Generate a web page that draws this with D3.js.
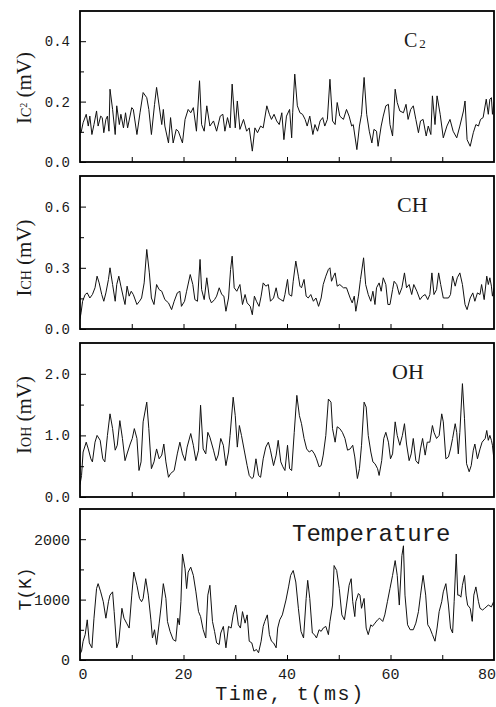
<!DOCTYPE html>
<html><head><meta charset="utf-8">
<script src="https://cdn.jsdelivr.net/npm/d3@7"></script>
<style>body{margin:0;background:#fff}svg{display:block}</style>
</head><body>
<script>
// ---- data (time in ms, values in panel units) ----
const c2Data = [[0,0.10],[0.2,0.097],[0.6,0.13],[1.2,0.158],[1.6,0.119],[1.9,0.152],[2.3,0.091],[2.7,0.124],[3.2,0.169],[3.5,0.119],[4.0,0.152],[4.3,0.147],[4.6,0.097],[5.0,0.141],[5.3,0.152],[5.6,0.102],[5.8,0.241],[6.3,0.174],[6.8,0.091],[7.1,0.186],[7.6,0.124],[7.9,0.158],[8.4,0.113],[8.8,0.163],[9.2,0.113],[10.0,0.18],[10.3,0.174],[11.0,0.091],[11.6,0.163],[12.2,0.23],[12.9,0.213],[13.3,0.174],[13.8,0.091],[14.4,0.19],[14.8,0.247],[15.8,0.124],[16.1,0.174],[16.4,0.119],[17.1,0.063],[17.5,0.147],[18.0,0.063],[18.6,0.108],[19.0,0.102],[19.8,0.063],[20.3,0.141],[20.9,0.174],[21.4,0.163],[21.9,0.18],[22.5,0.102],[23.1,0.269],[23.5,0.124],[24.0,0.102],[24.5,0.186],[25.1,0.119],[25.8,0.136],[26.4,0.102],[27.1,0.152],[27.6,0.158],[28.0,0.102],[28.5,0.147],[29.0,0.113],[29.4,0.258],[30.0,0.113],[30.4,0.202],[30.9,0.108],[31.6,0.141],[32.2,0.102],[32.7,0.113],[33.3,0.036],[33.8,0.113],[34.3,0.097],[34.9,0.119],[35.4,0.113],[36.1,0.186],[36.6,0.158],[37.0,0.141],[37.5,0.158],[38.0,0.136],[38.5,0.124],[39.0,0.163],[39.4,0.074],[39.9,0.152],[40.5,0.174],[40.9,0.08],[41.1,0.163],[41.5,0.291],[42.0,0.186],[42.5,0.163],[43.0,0.158],[43.5,0.141],[43.9,0.119],[44.4,0.152],[45.0,0.091],[45.4,0.124],[45.9,0.102],[46.4,0.136],[46.9,0.147],[47.3,0.119],[47.8,0.141],[48.3,0.274],[48.8,0.136],[49.3,0.124],[49.7,0.197],[50.2,0.152],[50.9,0.141],[51.5,0.174],[52.0,0.152],[52.5,0.119],[52.8,0.124],[53.5,0.041],[54.0,0.119],[54.4,0.158],[54.9,0.28],[55.4,0.158],[55.9,0.102],[56.4,0.063],[56.8,0.108],[57.3,0.102],[57.6,0.052],[58.2,0.119],[58.6,0.152],[59.1,0.186],[59.6,0.191],[59.9,0.124],[60.4,0.086],[60.9,0.241],[61.3,0.197],[61.8,0.169],[62.5,0.163],[63.0,0.191],[63.4,0.141],[63.9,0.174],[64.4,0.186],[64.9,0.141],[65.4,0.097],[65.8,0.136],[66.3,0.141],[66.9,0.086],[67.3,0.119],[67.8,0.091],[68.1,0.219],[68.6,0.124],[69.0,0.219],[69.6,0.158],[70.2,0.08],[70.9,0.119],[71.5,0.141],[72.1,0.102],[72.8,0.08],[73.4,0.119],[74.1,0.169],[74.4,0.202],[74.8,0.074],[75.4,0.052],[76.0,0.097],[76.5,0.124],[77.0,0.119],[77.4,0.141],[77.9,0.147],[78.5,0.208],[78.9,0.158],[79.2,0.208],[79.5,0.213],[79.7,0.158],[80.0,0.20]];

const chData = [[0,0.05],[0.2,0.079],[0.5,0.136],[1.0,0.169],[1.4,0.177],[1.9,0.152],[2.4,0.169],[2.9,0.202],[3.3,0.259],[3.7,0.226],[4.2,0.169],[4.6,0.136],[5.0,0.177],[5.5,0.243],[5.8,0.30],[6.3,0.218],[6.8,0.136],[7.1,0.218],[7.5,0.259],[7.9,0.21],[8.4,0.152],[8.7,0.12],[9.1,0.21],[9.5,0.161],[9.9,0.185],[10.3,0.169],[11.0,0.12],[11.5,0.136],[11.9,0.152],[12.4,0.226],[12.9,0.39],[13.4,0.275],[13.8,0.152],[14.3,0.12],[14.8,0.218],[15.3,0.193],[15.8,0.185],[16.4,0.144],[17.1,0.128],[17.7,0.095],[18.2,0.136],[18.8,0.177],[19.3,0.185],[19.6,0.111],[20.2,0.136],[20.6,0.185],[21.3,0.267],[21.8,0.218],[22.2,0.144],[22.7,0.136],[23.2,0.341],[23.5,0.193],[24.0,0.144],[24.5,0.251],[25.0,0.152],[25.4,0.128],[26.0,0.144],[26.4,0.161],[26.9,0.202],[27.4,0.169],[27.8,0.161],[28.2,0.087],[28.7,0.152],[29.1,0.292],[29.4,0.357],[29.8,0.202],[30.3,0.185],[30.9,0.218],[31.4,0.12],[31.9,0.169],[32.3,0.128],[32.9,0.111],[33.3,0.07],[33.7,0.161],[34.1,0.136],[34.6,0.111],[35.0,0.161],[35.4,0.226],[35.9,0.21],[36.4,0.218],[36.8,0.136],[37.4,0.152],[37.9,0.202],[38.3,0.152],[38.8,0.144],[39.3,0.136],[39.6,0.169],[40.1,0.243],[40.4,0.169],[40.9,0.161],[41.2,0.234],[41.7,0.333],[42.2,0.259],[42.5,0.21],[42.8,0.202],[43.3,0.243],[43.7,0.161],[44.1,0.152],[44.6,0.169],[45.1,0.136],[45.6,0.152],[46.1,0.111],[46.6,0.152],[47.0,0.218],[47.5,0.259],[48.0,0.292],[48.3,0.30],[48.6,0.234],[49.0,0.259],[49.3,0.275],[49.7,0.21],[50.2,0.218],[50.9,0.202],[51.5,0.202],[52.2,0.152],[52.6,0.128],[53.0,0.161],[53.3,0.087],[53.8,0.161],[54.2,0.243],[54.8,0.349],[55.2,0.218],[55.7,0.169],[56.2,0.136],[56.6,0.185],[57.0,0.12],[57.3,0.202],[57.8,0.226],[58.2,0.185],[58.6,0.251],[59.1,0.218],[59.5,0.12],[59.9,0.12],[60.4,0.193],[60.7,0.234],[61.2,0.218],[61.7,0.169],[62.2,0.202],[62.7,0.275],[63.1,0.202],[63.6,0.218],[64.1,0.169],[64.5,0.218],[65.1,0.185],[65.7,0.144],[66.2,0.161],[66.7,0.169],[67.2,0.144],[67.6,0.169],[68.0,0.275],[68.4,0.169],[68.9,0.193],[69.3,0.275],[69.7,0.218],[70.2,0.152],[70.7,0.152],[71.2,0.152],[71.6,0.169],[72.0,0.259],[72.5,0.21],[72.9,0.251],[73.4,0.275],[73.9,0.218],[74.4,0.12],[74.8,0.095],[75.4,0.152],[75.9,0.177],[76.3,0.136],[76.8,0.177],[77.3,0.169],[77.6,0.218],[78.1,0.144],[78.6,0.259],[78.9,0.218],[79.2,0.251],[79.5,0.21],[79.7,0.161],[80,0.2]];

const ohData = [[0,0.2],[0.3,0.35],[0.6,0.73],[1.2,0.89],[1.6,0.78],[2.1,0.62],[2.4,0.57],[2.9,0.89],[3.3,1.0],[3.9,0.92],[4.4,0.62],[4.8,0.57],[5.3,1.0],[5.8,1.35],[6.3,1.11],[6.8,0.76],[7.2,0.84],[7.7,1.24],[8.2,0.95],[8.7,0.59],[9.2,0.73],[9.7,0.86],[10.1,0.95],[10.5,1.11],[11.0,0.95],[11.4,0.43],[11.8,0.57],[12.2,1.22],[12.9,1.54],[13.3,1.11],[13.8,0.46],[14.3,0.57],[14.8,0.78],[15.3,0.62],[15.8,0.68],[16.2,0.86],[16.6,0.57],[17.1,0.32],[17.5,0.38],[18.2,0.43],[18.8,0.70],[19.3,0.89],[19.8,0.70],[20.3,0.59],[20.7,0.81],[21.4,1.03],[21.9,0.84],[22.4,0.59],[22.9,0.76],[23.3,1.49],[23.8,0.78],[24.3,0.70],[24.7,1.05],[25.1,0.97],[25.8,0.76],[26.3,0.59],[26.7,0.68],[27.2,0.95],[27.7,0.84],[28.2,0.51],[28.7,0.73],[29.0,1.0],[29.6,1.62],[30.0,1.32],[30.4,0.81],[30.8,1.16],[31.2,1.0],[31.8,0.73],[32.3,0.51],[32.7,0.35],[33.2,0.30],[33.5,0.32],[34.0,0.62],[34.5,0.35],[34.9,0.32],[35.4,0.62],[35.9,0.81],[36.4,0.89],[36.8,0.76],[37.4,0.51],[37.9,0.68],[38.3,0.92],[38.8,0.57],[39.2,0.49],[39.6,0.43],[40.1,0.84],[40.5,0.46],[40.9,0.43],[41.4,1.05],[41.9,1.65],[42.4,1.32],[42.8,1.19],[43.3,0.95],[43.8,0.78],[44.3,0.73],[44.8,0.76],[45.3,0.70],[45.7,0.62],[46.2,0.49],[46.6,0.51],[47.0,0.68],[47.5,1.0],[48.0,1.59],[48.5,1.54],[48.8,1.11],[49.3,0.89],[49.7,1.14],[50.2,1.11],[50.7,1.05],[51.2,0.95],[51.7,0.76],[52.2,0.78],[52.7,0.84],[53.1,0.65],[53.6,0.30],[54.0,0.46],[54.4,0.84],[54.9,1.54],[55.3,1.46],[55.7,1.0],[56.2,0.73],[56.6,0.57],[57.0,0.54],[57.5,0.46],[57.8,0.35],[58.3,0.59],[58.7,0.95],[59.1,1.05],[59.6,0.89],[60.0,0.62],[60.4,0.70],[60.9,1.22],[61.3,1.0],[61.8,0.84],[62.3,1.0],[62.7,1.19],[63.1,0.86],[63.6,0.59],[64.0,0.70],[64.4,0.95],[64.9,0.59],[65.4,0.54],[65.8,0.78],[66.2,0.95],[66.7,0.68],[67.1,0.89],[67.6,0.89],[68.1,1.16],[68.4,1.05],[68.9,0.95],[69.4,1.0],[69.9,1.35],[70.2,1.22],[70.7,0.62],[71.2,0.65],[71.6,0.78],[72.0,0.95],[72.5,1.19],[72.8,1.05],[73.1,0.70],[73.4,1.05],[73.9,1.84],[74.3,1.27],[74.7,0.54],[75.2,0.41],[75.6,0.51],[76.0,0.76],[76.3,0.86],[76.8,0.62],[77.3,0.78],[77.7,0.89],[78.3,0.95],[78.6,1.08],[78.9,0.92],[79.2,1.0],[79.5,0.92],[79.7,0.84],[80,0.6]];

const tempData = [[0,100],[0.3,147],[0.6,311],[1.0,420],[1.4,665],[1.8,283],[2.3,202],[2.7,692],[3.2,1183],[3.5,1264],[4.0,1128],[4.5,965],[5.0,692],[5.5,965],[5.8,1074],[6.3,1128],[6.6,801],[7.1,202],[7.5,311],[8.1,856],[8.5,692],[9.0,610],[9.5,529],[10.0,1074],[10.4,1455],[11.0,1237],[11.5,1019],[11.9,965],[12.2,1019],[12.7,1346],[13.2,1074],[13.7,665],[14.0,365],[14.4,501],[14.8,256],[15.3,610],[15.7,910],[16.1,1264],[16.6,1019],[16.9,638],[17.4,474],[18.0,338],[18.5,311],[18.9,692],[19.2,583],[19.5,965],[19.8,1755],[20.3,1510],[20.6,1183],[20.9,1455],[21.4,1537],[21.9,1401],[22.4,1128],[22.9,801],[23.3,719],[23.8,501],[24.3,365],[24.7,1074],[25.1,1237],[25.6,638],[26.0,474],[26.4,283],[26.9,256],[27.2,447],[27.7,556],[28.2,202],[28.7,556],[29.2,529],[29.6,747],[30.1,910],[30.6,583],[31.0,529],[31.4,801],[31.9,610],[32.3,747],[32.7,311],[33.2,283],[33.6,147],[34.1,174],[34.5,120],[35.0,311],[35.4,556],[35.7,638],[36.2,747],[36.6,420],[37.0,311],[37.4,283],[37.9,202],[38.2,529],[38.6,665],[39.1,747],[39.8,992],[40.3,1210],[40.7,1401],[41.2,1482],[41.7,1291],[42.2,856],[42.7,474],[43.2,365],[43.7,1019],[44.0,1319],[44.4,1019],[44.9,447],[45.3,420],[45.7,365],[46.2,501],[46.6,474],[47.0,529],[47.5,556],[48.0,420],[48.3,638],[48.8,910],[49.1,1564],[49.6,1482],[50.1,1183],[50.6,747],[51.1,665],[51.5,910],[52.0,1237],[52.4,1346],[52.7,965],[53.1,719],[53.3,965],[53.8,1101],[54.1,1074],[54.4,856],[54.9,1019],[55.3,529],[55.7,420],[56.2,583],[56.5,556],[57.0,610],[57.5,665],[57.9,692],[58.5,638],[58.9,747],[59.4,965],[59.9,1183],[60.4,1401],[60.9,1646],[61.3,1401],[61.7,910],[62.2,1728],[62.5,1891],[62.8,1074],[63.3,583],[63.8,501],[64.4,501],[64.9,610],[65.4,801],[65.8,1074],[66.3,1401],[66.8,1074],[67.2,583],[67.6,529],[68.1,420],[68.6,311],[69.0,529],[69.4,801],[69.9,965],[70.2,1128],[70.7,1264],[71.2,910],[71.6,529],[72.0,447],[72.3,965],[72.7,1755],[73.0,1074],[73.3,1074],[73.6,1040],[73.9,1237],[74.3,1400],[74.6,1074],[74.9,910],[75.4,856],[75.8,640],[76.1,1074],[76.5,1210],[77.0,965],[77.3,856],[77.8,828],[78.2,856],[78.9,910],[79.5,880],[79.9,960]];

const timeDomain = [0, 80];
const timeTickLabels = [0, 20, 40, 60, 80];
const timeMinorTicks = [10, 20, 30, 40, 50, 60, 70];
const c2Ticks = [0, 0.2, 0.4], c2Minor = [0.1, 0.3];
const chTicks = [0, 0.3, 0.6], chMinor = [0.15, 0.45];
const ohTicks = [0, 1.0, 2.0], ohMinor = [0.5, 1.5];
const tempTicks = [0, 1000, 2000], tempMinor = [500, 1500];

// ---- layout ----
const W = 496, H = 707, L = 80, R = 494;
const svg = d3.select("body").append("svg").attr("width", W).attr("height", H);
const x = d3.scaleLinear(timeDomain, [L, R]);
const mono = "'Liberation Mono','Courier New',monospace";
const serif = "'Liberation Serif','Times New Roman',serif";
const ink = "#1a1a1a";

const panels = [
  {data: c2Data, max: 0.5, top: 11, bottom: 162, ticks: c2Ticks, minor: c2Minor, fmt: d3.format(".1f"), tickFs: 14},
  {data: chData, max: 0.75, top: 176, bottom: 329, ticks: chTicks, minor: chMinor, fmt: d3.format(".1f"), tickFs: 14},
  {data: ohData, max: 2.5, top: 343, bottom: 497, ticks: ohTicks, minor: ohMinor, fmt: d3.format(".1f"), tickFs: 14},
  {data: tempData, max: 2500, top: 509, bottom: 660, ticks: tempTicks, minor: tempMinor, fmt: d3.format("d"), tickFs: 15}
];

panels.forEach((p, i) => {
  const y = d3.scaleLinear([0, p.max], [p.bottom, p.top]);
  const g = svg.append("g");
  const cid = "clip" + i;
  svg.append("clipPath").attr("id", cid).append("rect")
    .attr("x", L).attr("y", p.top).attr("width", R - L).attr("height", p.bottom - p.top);

  g.append("path").datum(p.data)
    .attr("clip-path", `url(#${cid})`)
    .attr("fill", "none").attr("stroke", "#111").attr("stroke-width", 1)
    .attr("stroke-linejoin", "round")
    .attr("d", d3.line().x(d => x(d[0])).y(d => y(d[1])));

  const ya = g.append("g").attr("transform", `translate(${L},0)`)
    .call(d3.axisLeft(y).tickValues(p.ticks).tickSize(-6).tickPadding(10).tickFormat(p.fmt));
  ya.select(".domain").remove();
  ya.selectAll("line").attr("stroke", "#000").attr("stroke-width", 1);
  ya.selectAll("text").attr("font-family", mono).attr("font-size", p.tickFs).attr("fill", ink);

  const ym = g.append("g").attr("transform", `translate(${L},0)`)
    .call(d3.axisLeft(y).tickValues(p.minor).tickSize(-4).tickFormat(""));
  ym.select(".domain").remove();
  ym.selectAll("line").attr("stroke", "#000");

  const xa = g.append("g").attr("transform", `translate(0,${p.bottom})`)
    .call(d3.axisBottom(x).tickValues(timeMinorTicks).tickSize(-5).tickFormat(""));
  xa.select(".domain").remove();
  xa.selectAll("line").attr("stroke", "#000");

  g.append("rect").attr("x", L).attr("y", p.top).attr("width", R - L).attr("height", p.bottom - p.top)
    .attr("fill", "none").attr("stroke", "#000").attr("stroke-width", 1.8);
});

// bottom x tick labels
svg.append("g").selectAll("text").data(timeTickLabels).join("text")
  .attr("x", d => d === timeDomain[1] ? W : x(d) + (d === 0 ? 3 : 0)).attr("y", 679)
  .attr("text-anchor", d => d === timeDomain[1] ? "end" : "middle")
  .attr("font-family", mono).attr("font-size", 15).attr("fill", ink)
  .text(d => d);

// x axis title
svg.append("text").attr("x", 290).attr("y", 700).attr("text-anchor", "middle")
  .attr("font-family", mono).attr("font-size", 20).attr("letter-spacing", 1.6).attr("fill", ink).text("Time, t(ms)");

// species labels
const sp = svg.append("g").attr("font-family", serif).attr("fill", ink);
const c2t = sp.append("text").attr("x", 404).attr("y", 47).attr("font-size", 20);
c2t.append("tspan").text("C");
c2t.append("tspan").attr("font-size", 13).attr("dx", 2).attr("dy", 1).text("2");
sp.append("text").attr("x", 397).attr("y", 212).attr("font-size", 22).text("CH");
sp.append("text").attr("x", 392).attr("y", 379).attr("font-size", 22).text("OH");
svg.append("text").attr("x", 292).attr("y", 541).attr("font-family", mono).attr("font-size", 24)
  .attr("fill", ink).text("Temperature");

// y-axis titles
function ylab(cx, cy, sub, sub2) {
  const t = svg.append("text").attr("transform", `translate(${cx},${cy}) rotate(-90)`)
    .attr("text-anchor", "middle").attr("font-family", serif).attr("font-size", 21).attr("fill", ink);
  t.append("tspan").text("I");
  t.append("tspan").attr("font-size", 14).text(sub);
  if (sub2) t.append("tspan").attr("font-size", 10).attr("dy", -4).text(sub2);
  t.append("tspan").attr("dy", sub2 ? 4 : 0).text(" (mV)");
}
ylab(31, 88, "C", "2");
ylab(31, 258, "CH", null);
ylab(31, 415, "OH", null);
svg.append("text").attr("transform", "translate(31,589) rotate(-90)")
  .attr("text-anchor", "middle").attr("font-family", mono).attr("font-size", 18).attr("fill", ink).text("T(K)");
</script>
</body></html>
